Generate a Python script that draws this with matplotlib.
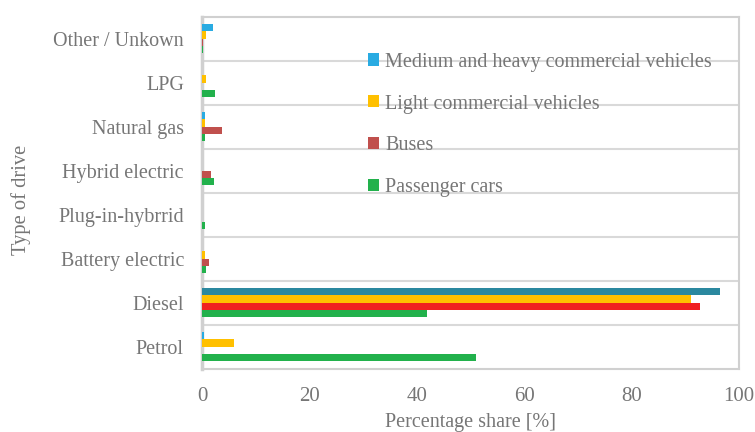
import matplotlib
matplotlib.use("Agg")
import matplotlib.pyplot as plt
import numpy as np

categories = ["Petrol", "Diesel", "Battery electric", "Plug-in-hybrrid",
              "Hybrid electric", "Natural gas", "LPG", "Other / Unkown"]
series_names = ["Medium and heavy commercial vehicles", "Light commercial vehicles",
                "Buses", "Passenger cars"]
medium_heavy = [0.45, 96.5, 0.0, 0.0, 0.0, 0.6, 0.0, 2.1]
light_comm = [6.0, 91.1, 0.55, 0.0, 0.1, 0.55, 0.75, 0.8]
buses = [0.1, 92.7, 1.3, 0.0, 1.75, 3.7, 0.0, 0.25]
passenger = [51.1, 41.9, 0.75, 0.6, 2.2, 0.55, 2.5, 0.2]
x_ticks = [0, 20, 40, 60, 80, 100]

base_colors = ["#29ABE2", "#FFC000", "#C0504D", "#22B14C"]
diesel_colors = ["#2B889F", "#FFC000", "#F02020", "#22B14C"]

plt.rcParams['font.family'] = ['Liberation Serif', 'DejaVu Serif']
txt = "#767676"

fig = plt.figure(figsize=(7.55, 4.32), dpi=100)
ax = fig.add_axes([0.2675, 0.1465, 0.979 - 0.2675, 0.9613 - 0.1465])

series = [medium_heavy, light_comm, buses, passenger]
h = 0.167
offsets = [1.5 * h, 0.5 * h, -0.5 * h, -1.5 * h]
y = np.arange(len(categories))
diesel_idx = categories.index("Diesel")
for i, (vals, name) in enumerate(zip(series, series_names)):
    cols = [diesel_colors[i] if j == diesel_idx else base_colors[i] for j in range(len(categories))]
    ax.barh(y + offsets[i], vals, height=h, color=cols, label=name, zorder=3)

ax.set_xlim(0, 100)
ax.set_ylim(-0.5, len(categories) - 0.5)
ax.set_xticks(x_ticks)
ax.set_yticks(y)
ax.set_yticklabels(categories)
ax.set_yticks(np.arange(len(categories) - 1) + 0.5, minor=True)
ax.grid(which='minor', axis='y', color='#D9D9D9', linewidth=1.5, zorder=0)
ax.tick_params(which='both', length=0)
ax.tick_params(axis='x', labelsize=15, labelcolor=txt, pad=13)
ax.tick_params(axis='y', labelsize=14.5, labelcolor=txt, pad=13)
for s in ax.spines.values():
    s.set_color('#D0D0D0')
    s.set_linewidth(1.5)
ax.spines['left'].set_linewidth(2.5)

ax.set_xlabel("Percentage share [%]", fontsize=14.5, color=txt)
ax.xaxis.set_label_coords(0.5, -0.127)
ax.xaxis.label.set_va('top')
ax.set_ylabel("Type of drive", fontsize=14.8, color=txt)
ax.yaxis.set_label_coords((21 - 202.3) / 537.0, 0.48)
ax.yaxis.label.set_va('center')

leg = ax.legend(loc='upper left', bbox_to_anchor=(0.294, 0.921), frameon=False,
                fontsize=14.5, labelcolor=txt, handlelength=0.55, handleheight=0.55,
                handletextpad=0.3, labelspacing=1.14, borderaxespad=0)

fig.savefig("out.png", dpi=100)
